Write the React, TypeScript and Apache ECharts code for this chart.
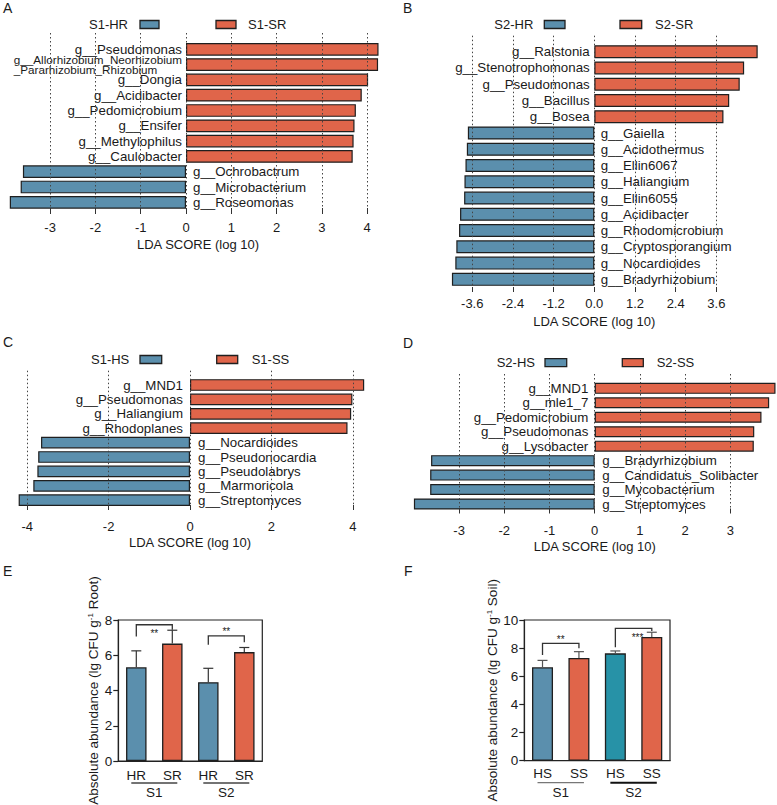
import React, { useEffect, useRef } from 'react';
import * as echarts from 'echarts';

const FONT = "'Liberation Sans', Arial, Helvetica, sans-serif";
const BLUE = '#5b8fad';
const RED = '#e0654a';
const TEAL = '#2792a7';
const EDGE = '#1f1f1f';
const INK = '#1a1a1a';

// ---------- Panel A (S1 root) ----------
const A_posNames = ['g__Pseudomonas', 'g__Allorhizobium_Neorhizobium\n_Pararhizobium_Rhizobium', 'g__Dongia', 'g__Acidibacter', 'g__Pedomicrobium', 'g__Ensifer', 'g__Methylophilus', 'g__Caulobacter'];
const A_posScores = [4.25, 4.24, 4.02, 3.88, 3.75, 3.72, 3.70, 3.68];
const A_negNames = ['g__Ochrobactrum', 'g__Microbacterium', 'g__Roseomonas'];
const A_negScores = [-3.60, -3.65, -3.89];
const A_legend = ['S1-HR', 'S1-SR'];

// ---------- Panel B (S2 root) ----------
const B_posNames = ['g__Ralstonia', 'g__Stenotrophomonas', 'g__Pseudomonas', 'g__Bacillus', 'g__Bosea'];
const B_posScores = [4.82, 4.42, 4.29, 3.98, 3.81];
const B_negNames = ['g__Gaiella', 'g__Acidothermus', 'g__Ellin6067', 'g__Haliangium', 'g__Ellin6055', 'g__Acidibacter', 'g__Rhodomicrobium', 'g__Cryptosporangium', 'g__Nocardioides', 'g__Bradyrhizobium'];
const B_negScores = [-3.73, -3.76, -3.80, -3.83, -3.84, -3.96, -3.99, -4.07, -4.10, -4.20];
const B_legend = ['S2-HR', 'S2-SR'];

// ---------- Panel C (S1 soil) ----------
const C_posNames = ['g__MND1', 'g__Pseudomonas', 'g__Haliangium', 'g__Rhodoplanes'];
const C_posScores = [4.28, 3.99, 3.96, 3.87];
const C_negNames = ['g__Nocardioides', 'g__Pseudonocardia', 'g__Pseudolabrys', 'g__Marmoricola', 'g__Streptomyces'];
const C_negScores = [-3.66, -3.73, -3.75, -3.85, -4.21];
const C_legend = ['S1-HS', 'S1-SS'];

// ---------- Panel D (S2 soil) ----------
const D_posNames = ['g__MND1', 'g__mle1_7', 'g__Pedomicrobium', 'g__Pseudomonas', 'g__Lysobacter'];
const D_posScores = [4.00, 3.86, 3.69, 3.53, 3.52];
const D_negNames = ['g__Bradyrhizobium', 'g__Candidatus_Solibacter', 'g__Mycobacterium', 'g__Streptomyces'];
const D_negScores = [-3.62, -3.64, -3.64, -4.00];
const D_legend = ['S2-HS', 'S2-SS'];

// axis ranges for LDA panels (min, max, interval)
const A_axis = [-3, 4, 1];
const B_axis = [-3.6, 3.6, 1.2];
const C_axis = [-4, 4, 2];
const D_axis = [-3, 3, 1];
const LDA_TITLE = 'LDA SCORE (log 10)';

// ---------- Panel E (root abundance) ----------
const E_groups = ['S1', 'S1', 'S2', 'S2'];
const E_cats = ['HR', 'SR', 'HR', 'SR'];
const E_means = [5.32, 6.66, 4.47, 6.18];
const E_sd = [0.93, 0.76, 0.79, 0.26];
const E_sigPairs = [[0, 1], [2, 3]];
const E_sigLine = [7.73, 7.10];
const E_sigLeftEnd = [7.06, 6.59];
const E_sigRightEnd = [7.44, 6.74];
const E_sigText = ['**', '**'];
const E_sigAbove = [false, true];
const E_groupNames = ['S1', 'S2'];
const E_groupSpan = [[0, 1], [2, 3]];
const E_yAxis = [0, 8, 2];

// ---------- Panel F (soil abundance) ----------
const F_groups = ['S1', 'S1', 'S2', 'S2'];
const F_cats = ['HS', 'SS', 'HS', 'SS'];
const F_means = [6.64, 7.30, 7.63, 8.79];
const F_sd = [0.49, 0.45, 0.17, 0.34];
const F_sigPairs = [[0, 1], [2, 3]];
const F_sigLine = [8.34, 9.41];
const F_sigLeftEnd = [7.51, 8.06];
const F_sigRightEnd = [7.99, 9.22];
const F_sigText = ['**', '***'];
const F_sigAbove = [true, false];
const F_groupNames = ['S1', 'S2'];
const F_groupSpan = [[0, 1], [2, 3]];
const F_yAxis = [0, 10, 2];

// styles (not data)
const E_colors = [BLUE, RED, BLUE, RED];
const F_colors = [BLUE, RED, TEAL, RED];
const E_groupLine = [{ c: '#444', w: 1.5 }, { c: '#444', w: 1.5 }];
const F_groupLine = [{ c: '#777', w: 1.3 }, { c: '#111', w: 2 }];

const grids: any[] = [];
const xAxes: any[] = [];
const yAxes: any[] = [];
const series: any[] = [];
const graphics: any[] = [];

function addGrid(g: any) {
  grids.push({ ...g, outerBoundsMode: 'none', containLabel: false });
  return grids.length - 1;
}

function fmtName(name: string) {
  if (name.indexOf('\n') >= 0) {
    return name.split('\n').map((s) => '{l|' + s + '}').join('\n');
  }
  return name;
}

function ldaPanel(L: any, posNames: string[], posScores: number[], negNames: string[], negScores: number[], axis: number[], legend: string[]) {
  const names = posNames.concat(negNames);
  const n = names.length;
  // bar grid
  const gb = addGrid({
    left: L.zero + L.bMin * L.ppu,
    width: (L.bMax - L.bMin) * L.ppu,
    top: L.rowTop,
    height: n * L.rowH,
  });
  xAxes.push({
    gridIndex: gb, type: 'value', min: L.bMin, max: L.bMax,
    axisLine: { show: false }, axisTick: { show: false }, axisLabel: { show: false }, splitLine: { show: false },
    name: LDA_TITLE, nameLocation: 'middle', nameGap: L.titleGap,
    nameTextStyle: { fontSize: 13, color: INK, fontFamily: FONT },
  });
  yAxes.push({ gridIndex: gb, type: 'category', data: names, inverse: true, show: false });
  const labelBase = {
    show: true, color: INK, fontSize: 13.3, lineHeight: 11, fontFamily: FONT,
    formatter: (p: any) => fmtName(p.name),
    rich: { l: { fontSize: 11.7, lineHeight: 10.2, align: 'left', color: INK, fontFamily: FONT } },
  };
  series.push({
    type: 'bar', name: legend[1], xAxisIndex: gb, yAxisIndex: gb, barWidth: L.barW, barGap: '-100%',
    data: names.map((_, i) => (i < posNames.length ? posScores[i] : '-')),
    itemStyle: { color: RED, borderColor: EDGE, borderWidth: 1.2 },
    label: { ...labelBase, position: 'left', distance: L.posDist },
  });
  series.push({
    type: 'bar', name: legend[0], xAxisIndex: gb, yAxisIndex: gb, barWidth: L.barW, barGap: '-100%',
    data: names.map((_, i) => (i < posNames.length ? '-' : negScores[i - posNames.length])),
    itemStyle: { color: BLUE, borderColor: EDGE, borderWidth: 1.2 },
    label: { ...labelBase, position: 'right', distance: L.negDist },
  });
  // axis / gridline grid
  const ga = addGrid({
    left: L.zero + axis[0] * L.ppu,
    width: (axis[1] - axis[0]) * L.ppu,
    top: L.lineTop,
    height: L.lineBottom - L.lineTop,
  });
  xAxes.push({
    gridIndex: ga, type: 'value', min: axis[0], max: axis[1], interval: axis[2], z: 5,
    offset: L.tickTop - L.lineBottom,
    axisLine: { show: false },
    axisTick: { show: true, length: L.tickLen, lineStyle: { color: '#333', width: 1 } },
    axisLabel: {
      fontSize: 13, color: INK, fontFamily: FONT, margin: L.labelMargin,
      formatter: (v: number) => {
        const r = Math.abs(v) < 1e-9 ? 0 : v;
        return r.toFixed(L.digits);
      },
    },
    splitLine: { show: true, lineStyle: { color: '#444', width: 1, type: [1.5, 2.5] } },
  });
  yAxes.push({ gridIndex: ga, type: 'value', show: false, min: 0, max: 1 });
  // legend & panel letter
  const ly = L.legendY;
  graphics.push({ type: 'text', style: { text: legend[0], x: L.lg[0], y: ly, align: 'right', verticalAlign: 'middle', fontSize: 13, fontFamily: FONT, fill: INK } });
  graphics.push({ type: 'rect', shape: { x: L.lg[1], y: ly - 4, width: L.lg[2], height: 8 }, style: { fill: BLUE, stroke: EDGE, lineWidth: 1.3 } });
  graphics.push({ type: 'rect', shape: { x: L.lg[3], y: ly - 4, width: L.lg[4], height: 8 }, style: { fill: RED, stroke: EDGE, lineWidth: 1.3 } });
  graphics.push({ type: 'text', style: { text: legend[1], x: L.lg[5], y: ly, align: 'left', verticalAlign: 'middle', fontSize: 13, fontFamily: FONT, fill: INK } });
  graphics.push({ type: 'text', style: { text: L.letter, x: L.letterX, y: L.letterY, align: 'left', verticalAlign: 'middle', fontSize: 14, fontFamily: FONT, fill: INK } });
}

function abundancePanel(P: any, groups: string[], cats: string[], means: number[], sd: number[], colors: string[],
  sigPairs: number[][], sigLine: number[], sigL: number[], sigR: number[], sigText: string[], sigAbove: boolean[],
  groupNames: string[], groupSpan: number[][], groupLine: any[], yAxis: number[]) {
  const g = addGrid({ left: P.left, top: P.top, width: P.width, height: P.height, show: true, borderColor: '#222', borderWidth: 1.2, backgroundColor: 'transparent' });
  xAxes.push({
    gridIndex: g, type: 'category', data: cats.map((c, i) => groups[i] + '-' + c),
    axisLine: { show: true, lineStyle: { color: '#222', width: 1.2 } }, axisTick: { show: false },
    axisLabel: { fontSize: 13.5, color: INK, fontFamily: FONT, margin: P.xLabelMargin, formatter: (v: string) => v.split('-')[1] },
  });
  yAxes.push({
    gridIndex: g, type: 'value', min: yAxis[0], max: yAxis[1], interval: yAxis[2],
    axisLine: { show: true, lineStyle: { color: '#222', width: 1.2 } },
    axisTick: { show: true, length: 5, lineStyle: { color: '#222', width: 1.2 } },
    axisLabel: { fontSize: 13.5, color: INK, fontFamily: FONT, margin: 6 },
    splitLine: { show: false },
    name: P.yName, nameLocation: 'middle', nameGap: P.nameGap, nameRotate: 90,
    nameTextStyle: { fontSize: 13.5, color: INK, fontFamily: FONT, rich: { sup: { fontSize: 8, verticalAlign: 'top', color: INK, fontFamily: FONT } } },
  });
  series.push({
    type: 'bar', xAxisIndex: g, yAxisIndex: g, barWidth: P.barW,
    data: means.map((m, i) => ({ value: m, itemStyle: { color: colors[i] } })),
    itemStyle: { borderColor: EDGE, borderWidth: 1.3 },
  });
  series.push({
    type: 'custom', xAxisIndex: g, yAxisIndex: g, z: 3,
    data: means.map((m, i) => [i, m, sd[i]]),
    renderItem: (params: any, api: any) => {
      const i = api.value(0), m = api.value(1), s = api.value(2);
      const p0 = api.coord([i, m]);
      const p1 = api.coord([i, m + s]);
      const st = { stroke: P.errColor, lineWidth: 1.2 };
      return {
        type: 'group', children: [
          { type: 'line', shape: { x1: p0[0], y1: p0[1], x2: p1[0], y2: p1[1] }, style: st },
          { type: 'line', shape: { x1: p1[0] - 5, y1: p1[1], x2: p1[0] + 5, y2: p1[1] }, style: st },
        ],
      };
    },
  });
  series.push({
    type: 'custom', xAxisIndex: g, yAxisIndex: g, z: 4,
    data: sigPairs.map((pr, k) => [pr[0], pr[1], sigLine[k], sigL[k], sigR[k]]),
    renderItem: (params: any, api: any) => {
      const k = params.dataIndex;
      const a = api.coord([api.value(0), api.value(2)]);
      const b = api.coord([api.value(1), api.value(2)]);
      const la = api.coord([api.value(0), api.value(3)]);
      const rb = api.coord([api.value(1), api.value(4)]);
      const mid = (a[0] + b[0]) / 2;
      const ty = sigAbove[k] ? a[1] - 4 : a[1] + 9;
      return {
        type: 'group', children: [
          { type: 'polyline', shape: { points: [[la[0], la[1]], [a[0], a[1]], [b[0], b[1]], [rb[0], rb[1]]] }, style: { stroke: '#333', lineWidth: 1.3, fill: 'none' } },
          { type: 'text', style: { text: sigText[k], x: mid + (P.sigDx ? P.sigDx[k] : 0), y: ty, align: 'center', verticalAlign: 'middle', fontSize: 10, fontFamily: FONT, fill: INK } },
        ],
      };
    },
  });
  series.push({
    type: 'custom', xAxisIndex: g, yAxisIndex: g, clip: false,
    data: groupSpan.map((s) => [s[0], s[1]]),
    renderItem: (params: any, api: any) => {
      const k = params.dataIndex;
      const a = api.coord([api.value(0), 0]);
      const b = api.coord([api.value(1), 0]);
      const y = a[1];
      return {
        type: 'group', children: [
          { type: 'line', shape: { x1: a[0] - 5, y1: y + 22, x2: b[0] + 5, y2: y + 22 }, style: { stroke: groupLine[k].c, lineWidth: groupLine[k].w } },
          { type: 'text', style: { text: groupNames[k], x: (a[0] + b[0]) / 2, y: y + 31.5, align: 'center', verticalAlign: 'middle', fontSize: 13.5, fontFamily: FONT, fill: INK } },
        ],
      };
    },
  });
  graphics.push({ type: 'text', style: { text: P.letter, x: P.letterX, y: P.letterY, align: 'left', verticalAlign: 'middle', fontSize: 14, fontFamily: FONT, fill: INK } });
}

function buildOption() {
  grids.length = 0; xAxes.length = 0; yAxes.length = 0; series.length = 0; graphics.length = 0;
  ldaPanel({ zero: 186, ppu: 45.3, rowTop: 41.65, rowH: 15.3, barW: 12.7, bMin: -4, bMax: 4.53, lineTop: 33, lineBottom: 208, tickTop: 211, tickLen: 6, labelMargin: 10, titleGap: 28, posDist: 4, negDist: 7, digits: 0, legendY: 24.5, lg: [128, 140, 19, 216, 20, 248], letter: 'A', letterX: 3, letterY: 8 },
    A_posNames, A_posScores, A_negNames, A_negScores, A_axis, A_legend);
  ldaPanel({ zero: 594.3, ppu: 33.9, rowTop: 43.57, rowH: 16.26, barW: 13, bMin: -5, bMax: 5, lineTop: 35.7, lineBottom: 287, tickTop: 290, tickLen: 5, labelMargin: 7, titleGap: 28, posDist: 4.6, negDist: 6.4, digits: 1, legendY: 24.5, lg: [533.3, 544.3, 20.7, 620, 21.7, 655], letter: 'B', letterX: 403, letterY: 8 },
    B_posNames, B_posScores, B_negNames, B_negScores, B_axis, B_legend);
  ldaPanel({ zero: 190, ppu: 40.7, rowTop: 377.8, rowH: 14.4, barW: 11.7, bMin: -4.6, bMax: 4.6, lineTop: 370.7, lineBottom: 505, tickTop: 508, tickLen: 5, labelMargin: 12, titleGap: 29, posDist: 7, negDist: 8, digits: 0, legendY: 359.5, lg: [129.3, 140, 21.7, 216.7, 21, 251.7], letter: 'C', letterX: 3, letterY: 342 },
    C_posNames, C_posScores, C_negNames, C_negScores, C_axis, C_legend);
  ldaPanel({ zero: 594.7, ppu: 45.2, rowTop: 381.1, rowH: 14.46, barW: 11, bMin: -4.2, bMax: 4.2, lineTop: 374, lineBottom: 508.5, tickTop: 511.7, tickLen: 5, labelMargin: 12, titleGap: 28.3, posDist: 6.4, negDist: 7.6, digits: 0, legendY: 362.7, lg: [535, 545, 21.7, 622.3, 21, 656.7], letter: 'D', letterX: 403, letterY: 343 },
    D_posNames, D_posScores, D_negNames, D_negScores, D_axis, D_legend);
  abundancePanel({ left: 118.3, top: 620, width: 144, height: 141, barW: 20.5, xLabelMargin: 7, nameGap: 16.5, errColor: '#333', yName: 'Absolute abundance (lg CFU g{sup|-1} Root)', letter: 'E', letterX: 3, letterY: 571 },
    E_groups, E_cats, E_means, E_sd, E_colors, E_sigPairs, E_sigLine, E_sigLeftEnd, E_sigRightEnd, E_sigText, E_sigAbove, E_groupNames, E_groupSpan, E_groupLine, E_yAxis);
  abundancePanel({ left: 524.3, top: 620, width: 145.7, height: 140.7, barW: 21, xLabelMargin: 6, nameGap: 19, errColor: '#555', yName: 'Absolute abundance (lg CFU g{sup|-1} Soil)', sigDx: [0, 4], letter: 'F', letterX: 404, letterY: 571 },
    F_groups, F_cats, F_means, F_sd, F_colors, F_sigPairs, F_sigLine, F_sigLeftEnd, F_sigRightEnd, F_sigText, F_sigAbove, F_groupNames, F_groupSpan, F_groupLine, F_yAxis);
  return {
    animation: false,
    backgroundColor: '#fff',
    textStyle: { fontFamily: FONT },
    grid: grids,
    xAxis: xAxes,
    yAxis: yAxes,
    series,
    graphic: graphics,
  };
}

export default function App() {
  const ref = useRef<HTMLDivElement>(null);
  useEffect(() => {
    const chart = echarts.init(ref.current!, null, { renderer: 'svg' });
    chart.setOption(buildOption());
    return () => chart.dispose();
  }, []);
  return <div ref={ref} style={{ position: 'absolute', left: 0, top: 0, width: 777, height: 805, background: '#fff' }} />;
}
